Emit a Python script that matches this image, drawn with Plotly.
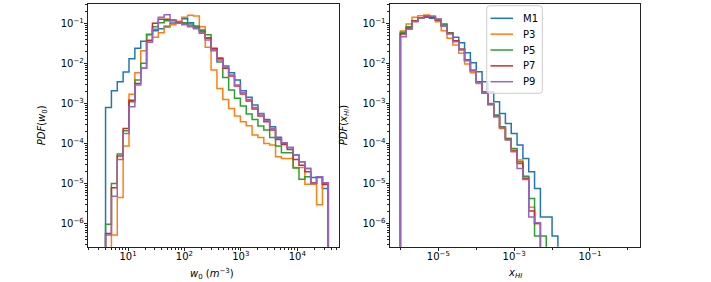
import numpy as np
import plotly.graph_objects as go

# ---------------- data ----------------
SERIES = ["M1", "P3", "P5", "P7", "P9"]
COLORS = ["#1f77b4", "#ff7f0e", "#2ca02c", "#d62728", "#9467bd"]

# histogram bins (log-spaced, 39 bins)
N_BINS = 39
W0_LOG_MIN, W0_LOG_MAX = 0.498, 4.55
XHI_LOG_MIN, XHI_LOG_MAX = -6.0, 0.0

# PDF(w0) per bin
w0_M1 = [0, 8.0e-4, 2.09e-3, 3.51e-3, 6.11e-3, 1.315e-2, 2.38e-2, 3.56e-2, 5.22e-2, 6.56e-2,
         7.36e-2, 8.42e-2, 1.02e-1, 1.08e-1, 1.31e-1, 1.04e-1, 8.26e-2, 6.56e-2, 4.31e-2, 2.34e-2,
         1.37e-2, 8.63e-3, 5.89e-3, 3.86e-3, 2.09e-3, 1.43e-3, 9.19e-4, 5.70e-4, 4.04e-4, 2.65e-4,
         1.44e-4, 1.02e-4, 8.09e-5, 5.21e-5, 3.55e-5, 2.42e-5, 1.45e-5, 1.45e-5, 7.7e-6]
w0_P3 = [0, 0, 5.3e-7, 4.6e-6, 8.73e-5, 1.70e-3, 5.89e-3, 2.08e-2, 3.84e-2, 4.48e-2,
         5.85e-2, 7.95e-2, 9.26e-2, 1.12e-1, 1.41e-1, 1.58e-1, 1.52e-1, 8.26e-2, 2.52e-2, 6.86e-3,
         2.39e-3, 1.27e-3, 7.59e-4, 4.89e-4, 3.53e-4, 2.81e-4, 1.64e-4, 1.435e-4, 1.017e-4, 9.25e-5,
         4.73e-5, 4.30e-5, 4.30e-5, 2.57e-5, 2.57e-5, 9.8e-6, 9.8e-6, 3.0e-6, 1.02e-5]
w0_P5 = [0, 9.9e-7, 1.02e-5, 5.52e-5, 2.11e-4, 1.11e-3, 3.86e-3, 1.006e-2, 5.32e-2, 8.26e-2,
         1.039e-1, 1.166e-1, 1.21e-1, 1.08e-1, 1.039e-1, 9.62e-2, 8.58e-2, 6.82e-2, 5.22e-2, 2.16e-2,
         1.086e-2, 4.50e-3, 2.17e-3, 1.35e-3, 8.67e-4, 5.48e-4, 4.04e-4, 2.75e-4, 2.19e-4, 1.435e-4,
         8.73e-5, 5.96e-5, 5.96e-5, 2.5e-5, 1.3e-5, 1.50e-5, 1.04e-5, 1.5e-5, 1.0e-5]
w0_P7 = [0, 5.8e-7, 8.0e-6, 4.92e-5, 2.41e-4, 1.22e-3, 3.19e-3, 7.55e-3, 3.70e-2, 1.00e-1,
         1.258e-1, 1.258e-1, 1.166e-1, 1.039e-1, 9.62e-2, 8.58e-2, 7.65e-2, 6.08e-2, 4.31e-2, 2.38e-2,
         1.315e-2, 7.55e-3, 4.86e-3, 2.74e-3, 1.73e-3, 1.16e-3, 7.31e-4, 4.89e-4, 3.53e-4, 2.19e-4,
         1.28e-4, 9.61e-5, 7.21e-5, 4.06e-5, 2.9e-5, 2.0e-5, 1.05e-5, 1.50e-5, 9.6e-6]
w0_P9 = [0, 5.3e-7, 4.9e-6, 4.06e-5, 1.81e-4, 8.35e-4, 2.90e-3, 7.55e-3, 3.36e-2, 7.09e-2,
         1.41e-1, 1.64e-1, 1.21e-1, 1.00e-1, 9.26e-2, 8.26e-2, 7.36e-2, 5.63e-2, 3.84e-2, 2.08e-2,
         1.219e-2, 8.0e-3, 5.15e-3, 2.90e-3, 1.87e-3, 1.27e-3, 8.04e-4, 5.48e-4, 3.74e-4, 2.41e-4,
         1.355e-4, 1.057e-4, 8.09e-5, 5.21e-5, 3.55e-5, 2.42e-5, 1.02e-5, 1.50e-5, 1.06e-5]

# PDF(x_HI) per bin
xhi_M1 = [5.63e-2, 7.65e-2, 1.166e-1, 1.332e-1, 1.41e-1, 1.332e-1, 1.21e-1, 9.62e-2, 5.63e-2, 4.48e-2,
          3.30e-2, 1.86e-2, 1.045e-2, 6.23e-3, 3.51e-3, 1.98e-3, 1.11e-3, 5.70e-4, 3.21e-4, 1.81e-4,
          9.25e-5, 4.30e-5, 2.0e-5, 7.7e-6, 1.5e-6, 1.5e-6, 5.0e-7, 0, 0, 0,
          0, 0, 0, 0, 0, 0, 0, 0, 0]
xhi_P3 = [6.44e-2, 9.62e-2, 1.41e-1, 1.55e-1, 1.61e-1, 1.466e-1, 1.10e-1, 6.56e-2, 4.23e-2, 2.88e-2,
          1.79e-2, 9.68e-3, 5.89e-3, 3.19e-3, 1.80e-3, 9.19e-4, 4.71e-4, 2.41e-4, 1.355e-4, 6.94e-5,
          3.91e-5, 1.56e-5, 2.6e-6, 1.03e-6, 0, 0, 0, 0, 0, 0,
          0, 0, 0, 0, 0, 0, 0, 0, 0]
xhi_P5 = [5.96e-2, 8.26e-2, 1.166e-1, 1.38e-1, 1.466e-1, 1.41e-1, 1.258e-1, 9.09e-2, 5.85e-2, 3.70e-2,
          2.25e-2, 1.219e-2, 6.86e-3, 3.51e-3, 1.98e-3, 1.01e-3, 5.18e-4, 2.65e-4, 1.355e-4, 7.64e-5,
          3.55e-5, 1.50e-5, 4.3e-6, 5.0e-7, 5.0e-7, 0, 0, 0, 0, 0,
          0, 0, 0, 0, 0, 0, 0, 0, 0]
xhi_P7 = [5.42e-2, 7.65e-2, 1.143e-1, 1.332e-1, 1.466e-1, 1.41e-1, 1.21e-1, 8.58e-2, 5.63e-2, 3.70e-2,
          2.25e-2, 1.219e-2, 6.60e-3, 3.44e-3, 1.87e-3, 9.73e-4, 4.89e-4, 2.55e-4, 1.28e-4, 6.55e-5,
          3.23e-5, 1.36e-5, 2.1e-6, 1.03e-6, 0, 0, 0, 0, 0, 0,
          0, 0, 0, 0, 0, 0, 0, 0, 0]
xhi_P9 = [4.65e-2, 7.09e-2, 1.10e-1, 1.332e-1, 1.55e-1, 1.52e-1, 1.28e-1, 8.58e-2, 5.42e-2, 3.49e-2,
          2.16e-2, 1.172e-2, 6.60e-3, 3.31e-3, 1.87e-3, 9.73e-4, 4.71e-4, 2.55e-4, 1.23e-4, 6.31e-5,
          2.42e-5, 1.29e-5, 1.5e-6, 1.07e-6, 0, 0, 0, 0, 0, 0,
          0, 0, 0, 0, 0, 0, 0, 0, 0]

W0_DATA = [w0_M1, w0_P3, w0_P5, w0_P7, w0_P9]
XHI_DATA = [xhi_M1, xhi_P3, xhi_P5, xhi_P7, xhi_P9]

Y_TICK_EXP = [-6, -5, -4, -3, -2, -1]
W0_TICK_EXP = [1, 2, 3, 4]
XHI_TICK_EXP = [-5, -3, -1]

# ---------------- helpers ----------------
FLOOR = 1e-12  # empty bins: drawn below the visible range (like a step histogram)


def step_xy(edges, vals):
    v = [x if x > 0 else FLOOR for x in vals]
    xs = [edges[0]] + list(edges[:-1]) + [edges[-1], edges[-1]]
    ys = [FLOOR] + v + [v[-1], FLOOR]
    return xs, ys


def sup(e):
    s = str(e).replace("-", "\u2212")
    return "10<sup>" + s + "</sup>"


def minor_vals(lo, hi):
    out = []
    for n in range(lo, hi):
        for k in range(2, 10):
            out.append(k * 10.0 ** n)
    return out


w0_edges = np.logspace(W0_LOG_MIN, W0_LOG_MAX, N_BINS + 1)
xhi_edges = np.logspace(XHI_LOG_MIN, XHI_LOG_MAX, N_BINS + 1)

fig = go.Figure()
for name, col, vals in zip(SERIES, COLORS, W0_DATA):
    xs, ys = step_xy(w0_edges, vals)
    fig.add_trace(go.Scatter(x=xs, y=ys, mode="lines", line=dict(color=col, width=1.5, shape="hv"),
                             name=name, showlegend=False, xaxis="x", yaxis="y", hoverinfo="skip"))
for name, col, vals in zip(SERIES, COLORS, XHI_DATA):
    xs, ys = step_xy(xhi_edges, vals)
    fig.add_trace(go.Scatter(x=xs, y=ys, mode="lines", line=dict(color=col, width=1.5, shape="hv"),
                             name=name, showlegend=False, xaxis="x2", yaxis="y2", hoverinfo="skip"))

W, H = 711, 282
L1, R1 = 88.3, 339.3
L2, R2 = 390.0, 640.0
TOP, BOT = 4.0, 246.7

font = dict(family="DejaVu Sans", size=10, color="black")
axis_common = dict(type="log", showgrid=False, zeroline=False, showline=True, linecolor="#222",
                   linewidth=1, mirror=True, ticks="outside", ticklen=3.5, tickwidth=0.8,
                   tickcolor="#222", tickfont=font, tickmode="array")

yticks = dict(tickvals=[10.0 ** e for e in Y_TICK_EXP], ticktext=[sup(e) for e in Y_TICK_EXP],
              ticklabelstandoff=-2,
              minor=dict(ticks="outside", ticklen=2, tickcolor="#222", tickwidth=0.6,
                         tickmode="array", tickvals=minor_vals(-7, 0)))


def px(x):
    return x / W


def py(y):
    return 1 - y / H


# legend drawn as a box of line samples + labels (matplotlib style, tighter than plotly's own)
LEG_L, LEG_R, LEG_T, LEG_B, RAD = 486.7, 542.3, 5.7, 93.3, 3.0
LEG_ROW0, LEG_DY = 18.3, 15.85
LEG_LINE_X0, LEG_LINE_X1, LEG_TEXT_X = 490.5, 513.0, 521.0

shapes = []
path = (f"M {px(LEG_L + RAD)},{py(LEG_T)} L {px(LEG_R - RAD)},{py(LEG_T)} "
        f"Q {px(LEG_R)},{py(LEG_T)} {px(LEG_R)},{py(LEG_T + RAD)} "
        f"L {px(LEG_R)},{py(LEG_B - RAD)} Q {px(LEG_R)},{py(LEG_B)} {px(LEG_R - RAD)},{py(LEG_B)} "
        f"L {px(LEG_L + RAD)},{py(LEG_B)} Q {px(LEG_L)},{py(LEG_B)} {px(LEG_L)},{py(LEG_B - RAD)} "
        f"L {px(LEG_L)},{py(LEG_T + RAD)} Q {px(LEG_L)},{py(LEG_T)} {px(LEG_L + RAD)},{py(LEG_T)} Z")
shapes.append(dict(type="path", path=path, xref="paper", yref="paper", layer="above",
                   fillcolor="rgba(255,255,255,0.8)", line=dict(color="#cccccc", width=1)))
annotations = []
for i, (name, col) in enumerate(zip(SERIES, COLORS)):
    yy = LEG_ROW0 + i * LEG_DY
    shapes.append(dict(type="line", xref="paper", yref="paper", layer="above",
                       x0=px(LEG_LINE_X0), x1=px(LEG_LINE_X1), y0=py(yy), y1=py(yy),
                       line=dict(color=col, width=1.5)))
    annotations.append(dict(text=name, x=px(LEG_TEXT_X), y=py(yy), xref="paper", yref="paper",
                            showarrow=False, font=font, xanchor="left", yanchor="middle"))

annotations += [
    dict(text="<i>PDF</i>(<i>w</i><sub>0</sub>)", x=px(42), y=py(125.3), xref="paper", yref="paper",
         textangle=-90, showarrow=False, font=font, xanchor="center", yanchor="middle"),
    dict(text="<i>PDF</i>(<i>x<sub>HI</sub></i>)", x=px(344), y=py(125.3), xref="paper", yref="paper",
         textangle=-90, showarrow=False, font=font, xanchor="center", yanchor="middle"),
    dict(text="<i>w</i><sub>0</sub> (<i>m</i><sup>\u22123</sup>)", x=px(212), y=py(274),
         xref="paper", yref="paper", showarrow=False, font=font, xanchor="center", yanchor="middle"),
    dict(text="<i>x<sub>HI</sub></i>", x=px(515), y=py(273),
         xref="paper", yref="paper", showarrow=False, font=font, xanchor="center", yanchor="middle"),
]

fig.update_layout(
    width=W, height=H, margin=dict(l=0, r=0, t=0, b=0),
    paper_bgcolor="white", plot_bgcolor="white", font=font, showlegend=False,
    xaxis=dict(**axis_common, domain=[px(L1), px(R1)], range=[0.296, 4.745], anchor="y",
               tickvals=[10.0 ** e for e in W0_TICK_EXP], ticktext=[sup(e) for e in W0_TICK_EXP],
               ticklabelstandoff=-3,
               minor=dict(ticks="outside", ticklen=2, tickcolor="#222", tickwidth=0.6,
                          tickmode="array", tickvals=minor_vals(0, 5))),
    yaxis=dict(**axis_common, domain=[py(BOT), py(TOP)], range=[-6.566, -0.518], anchor="x",
               **yticks),
    xaxis2=dict(**axis_common, domain=[px(L2), px(R2)], range=[-6.274, 0.319], anchor="y2",
                tickvals=[10.0 ** e for e in XHI_TICK_EXP], ticktext=[sup(e) for e in XHI_TICK_EXP],
                ticklabelstandoff=-3,
                minor=dict(ticks="outside", ticklen=2, tickcolor="#222", tickwidth=0.6,
                           tickmode="array", tickvals=[1e-6, 1e-4, 1e-2, 1.0])),
    yaxis2=dict(**axis_common, domain=[py(BOT), py(TOP)], range=[-6.566, -0.518], anchor="x2",
                **yticks),
    shapes=shapes,
    annotations=annotations,
)

fig.write_html("out.html", config={"displayModeBar": False},
               post_script="document.body.style.margin='0';document.body.style.overflow='hidden';")
